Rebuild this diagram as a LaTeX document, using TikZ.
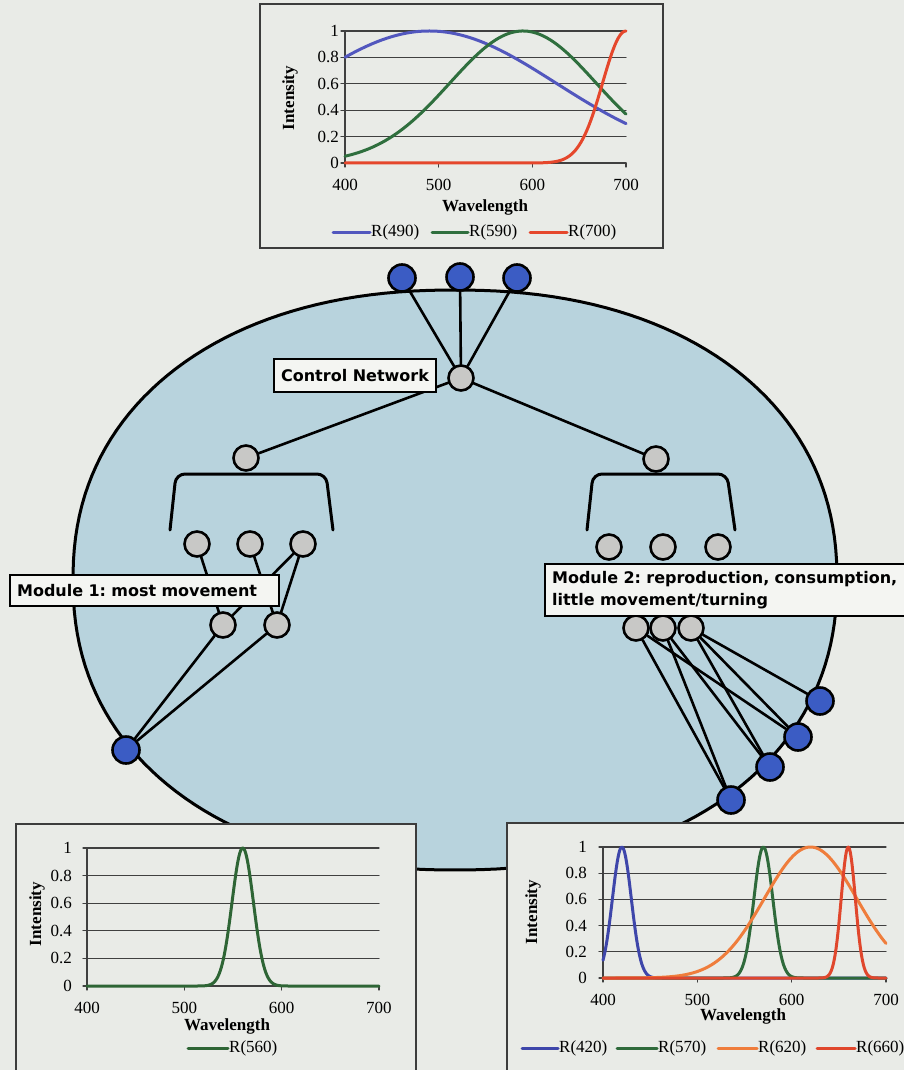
\documentclass[tikz,border=0pt]{standalone}
\usepackage{fontspec}
\setmainfont{Liberation Serif}
\newfontfamily\boxfont{DejaVu Sans}
\frenchspacing
\definecolor{pagebg}{HTML}{E9EBE7}
\definecolor{shellblue}{HTML}{B8D3DD}
\definecolor{nodegray}{HTML}{C8C8C6}
\definecolor{nodeblue}{HTML}{3B5CC4}
\definecolor{boxfill}{HTML}{F4F5F2}
\definecolor{framegray}{HTML}{3C3C3C}
\definecolor{gridgray}{HTML}{404040}
\definecolor{topblue}{HTML}{5257BE}
\definecolor{topgreen}{HTML}{2F6F3E}
\definecolor{topred}{HTML}{E5472C}
\definecolor{lgreen}{HTML}{2E6535}
\definecolor{rblue}{HTML}{3E46AA}
\definecolor{rgreen}{HTML}{2F6A3B}
\definecolor{rorange}{HTML}{EF7D3C}
\definecolor{rred}{HTML}{E0472D}

% grid, ticks and tick labels of one spectrum chart (x: 0..300 nm above 400, y: 0..1)
\newcommand{\specgrid}[1]{%
  \foreach \v in {0,0.2,0.4,0.6,0.8,1}{
    \draw[gridline] (0,\v) -- (300,\v);
    \draw[gridline] (0,\v) -- ++(-4pt,0pt);
    \node[ticklab, anchor=east, xshift=-#1] at (0,\v) {\v};}
  \draw[gridline] (0,0) -- (0,1);
  \foreach \w/\t in {0/400,100/500,200/600,300/700}{
    \draw[gridline] (\w,0) -- ++(0pt,-4pt);
    \node[ticklab, yshift=-22pt] at (\w,0) {\t};}
}

\begin{document}
\begin{tikzpicture}[x=1pt, y=-1pt, line cap=round,
  netnode/.style={circle, draw=black, line width=2.6pt, inner sep=0pt},
  graynode/.style={netnode, fill=nodegray, minimum size=25pt},
  bluenode/.style={netnode, fill=nodeblue, minimum size=27pt},
  edge/.style={draw=black, line width=2.6pt},
  bracket/.style={draw=black, line width=3pt, rounded corners=9pt},
  labelbox/.style={draw=black, fill=boxfill, line width=2.2pt, inner xsep=7pt, inner ysep=5pt,
    align=left, font=\boxfont\bfseries\fontsize{16}{22}\selectfont},
  chartbox/.style={draw=framegray, fill=pagebg, line width=1.4pt},
  gridline/.style={draw=gridgray, line width=1.1pt},
  ticklab/.style={inner sep=0pt, font=\fontsize{17}{19}\selectfont},
  axlab/.style={inner sep=0pt, font=\bfseries\fontsize{17}{19}\selectfont},
  curve/.style={line width=3pt, line join=round},
]
\useasboundingbox (0,0) rectangle (904,1070);
\clip (0,0) rectangle (904,1070);
\fill[pagebg] (0,0) rectangle (904,1070);

% the shell (slightly squarer than an ellipse)
\draw[fill=shellblue, line width=3pt, line join=round]
  plot[domain=1:361, samples=181, variable=\t]
  ({455+382*cos(\t)*pow(abs(cos(\t)),-0.0909)}, {580+290*sin(\t)*pow(abs(sin(\t)),-0.0909)}) -- cycle;

% control network
\node[bluenode] (in1) at (402,278) {};
\node[bluenode] (in2) at (460,277) {};
\node[bluenode] (in3) at (517,278) {};
\node[graynode] (ctrl) at (461,378) {};
\draw[edge] (ctrl) -- (in1);
\draw[edge] (ctrl) -- (in2);
\draw[edge] (ctrl) -- (in3);

% module 1
\node[graynode] (mo1) at (246,458) {};
\draw[bracket] (170,530) -- (176,474) -- (326,474) -- (333,530);
\node[graynode] (mo1a) at (197,544) {};
\node[graynode] (mo1b) at (250,544) {};
\node[graynode] (mo1c) at (303,544) {};
\node[graynode] (mo1d) at (223,625) {};
\node[graynode] (mo1e) at (277,625) {};
\node[bluenode] (out1) at (126,750) {};
\draw[edge] (ctrl) -- (mo1);
\draw[edge] (mo1a) -- (mo1d);
\draw[edge] (mo1b) -- (mo1e);
\draw[edge] (mo1c) -- (mo1d);
\draw[edge] (mo1c) -- (mo1e);
\draw[edge] (mo1d) -- (out1);
\draw[edge] (mo1e) -- (out1);

% module 2
\node[graynode] (mo2) at (656,459) {};
\draw[bracket] (587,530) -- (593,474) -- (727,474) -- (735,530);
\node[graynode] (mo2a) at (609,547) {};
\node[graynode] (mo2b) at (663,547) {};
\node[graynode] (mo2c) at (718,547) {};
\node[graynode] (mo2d) at (636,628) {};
\node[graynode] (mo2e) at (663,628) {};
\node[graynode] (mo2f) at (691,628) {};
\node[bluenode] (out2a) at (820,701) {};
\node[bluenode] (out2b) at (798,737) {};
\node[bluenode] (out2c) at (770,767) {};
\node[bluenode] (out2d) at (731,800) {};
\draw[edge] (ctrl) -- (mo2);
\draw[edge] (mo2d) -- (out2d);
\draw[edge] (mo2d) -- (out2b);
\draw[edge] (mo2e) -- (out2d);
\draw[edge] (mo2e) -- (out2c);
\draw[edge] (mo2f) -- (out2c);
\draw[edge] (mo2f) -- (out2b);
\draw[edge] (mo2f) -- (out2a);

% labels
\node[labelbox, anchor=west, minimum height=33pt] (ctrllab) at (273,375.5) {Control Network};
\node[labelbox, anchor=west, text width=255pt, minimum height=31pt] (mod1lab) at (9,590.5) {Module 1: most movement};
\node[labelbox, anchor=north west, text width=352pt, minimum height=52pt] (mod2lab) at (544,563) {Module 2: reproduction, consumption,\\little movement/turning};

% top chart
\draw[chartbox] (260,4) rectangle (663,248);
\begin{scope}[shift={(345,163)}, x=0.9367pt, y=132pt]
  \specgrid{6pt}
  \draw[curve, topblue] plot[domain=0:300, samples=101] (\x, {exp(-0.5*((\x-90)/135)^2)});
  \draw[curve, topgreen] plot[domain=0:300, samples=101] (\x, {exp(-0.5*((\x-190)/78)^2)});
  \draw[curve, topred] plot[domain=0:300, samples=151] (\x, {exp(-0.5*min(((\x-300)/25)^2,60))});
\end{scope}
\node[axlab, rotate=90] (intop) at (290,98) {Intensity};
\node[axlab] (wltop) at (485,207) {Wavelength};
\draw[curve, topblue] (333,232) -- (370,232);
\node[ticklab, anchor=west] at (371,232) {R(490)};
\draw[curve, topgreen] (432,232) -- (468,232);
\node[ticklab, anchor=west] at (469,232) {R(590)};
\draw[curve, topred] (530,232) -- (567,232);
\node[ticklab, anchor=west] at (568,232) {R(700)};

% bottom left chart
\draw[chartbox] (16,824) rectangle (416,1080);
\begin{scope}[shift={(87,986)}, x=0.9733pt, y=138pt]
  \specgrid{15pt}
  \draw[curve, lgreen] plot[domain=0:300, samples=301] (\x, {exp(-0.5*min(((\x-160)/11)^2,60))});
\end{scope}
\node[axlab, rotate=90] (inleft) at (37,914) {Intensity};
\node[axlab] (wlleft) at (227,1026) {Wavelength};
\draw[curve, lgreen] (188,1048) -- (228,1048);
\node[ticklab, anchor=west] at (229,1048) {R(560)};

% bottom right chart
\draw[chartbox] (507,823) rectangle (910,1080);
\begin{scope}[shift={(603,978)}, x=0.9433pt, y=131pt]
  \specgrid{16pt}
  \draw[curve, rblue] plot[domain=0:300, samples=301] (\x, {exp(-0.5*min(((\x-20)/10)^2,60))});
  \draw[curve, rgreen] plot[domain=0:300, samples=301] (\x, {exp(-0.5*min(((\x-170)/10)^2,60))});
  \draw[curve, rorange] plot[domain=0:300, samples=151] (\x, {exp(-0.5*min(((\x-220)/49)^2,60))});
  \draw[curve, rred] plot[domain=0:300, samples=301] (\x, {exp(-0.5*min(((\x-260)/7.5)^2,60))});
\end{scope}
\node[axlab, rotate=90] (inright) at (533,912) {Intensity};
\node[axlab] (wlright) at (743,1016) {Wavelength};
\draw[curve, rblue] (522,1048) -- (558,1048);
\node[ticklab, anchor=west] at (559,1048) {R(420)};
\draw[curve, rgreen] (617,1048) -- (657,1048);
\node[ticklab, anchor=west] at (658,1048) {R(570)};
\draw[curve, rorange] (718,1048) -- (757,1048);
\node[ticklab, anchor=west] at (758,1048) {R(620)};
\draw[curve, rred] (817,1048) -- (855,1048);
\node[ticklab, anchor=west] at (856,1048) {R(660)};
\end{tikzpicture}
\end{document}
